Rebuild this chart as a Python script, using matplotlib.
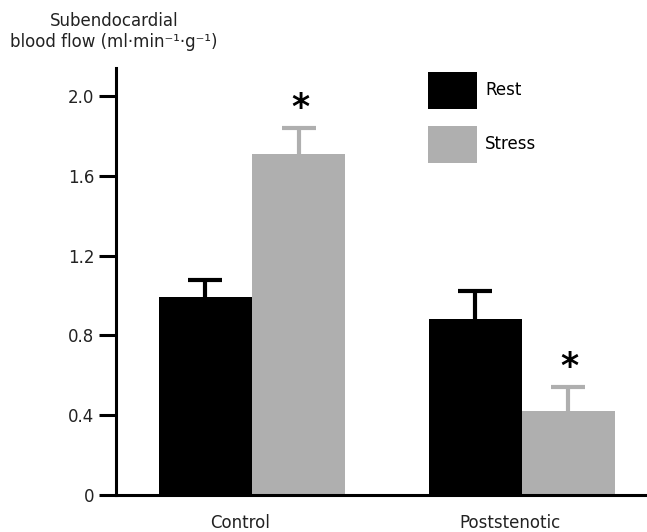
import matplotlib
matplotlib.use('Agg')
import matplotlib.pyplot as plt
import numpy as np

# data
groups = ['Control', 'Poststenotic']
rest_mean = [0.99, 0.88]
rest_err = [0.09, 0.14]
stress_mean = [1.71, 0.42]
stress_err = [0.13, 0.12]
significant = [True, True]   # stress vs rest

plt.rcParams['font.family'] = ['DejaVu Sans']
plt.rcParams['font.size'] = 12

black = '#000000'
grey = '#afafaf'

fig = plt.figure(figsize=(6.47, 5.32), dpi=100)
ax = fig.add_axes([116 / 647, 1 - 495 / 532, (645 - 116) / 647, (495 - 68) / 532])

x = np.arange(len(groups))
w = 0.345

ax.bar(x - w / 2, rest_mean, w, color=black, label='Rest', linewidth=0)
ax.bar(x + w / 2, stress_mean, w, color=grey, label='Stress', linewidth=0)

# one-sided error bars (upper cap only)
for xs, m, e, c in [(x - w / 2, rest_mean, rest_err, black),
                    (x + w / 2, stress_mean, stress_err, grey)]:
    eb = ax.errorbar(xs, m, yerr=[np.zeros(len(x)), e], fmt='none',
                     ecolor=c, elinewidth=3, capsize=12.5, capthick=3)
    eb[1][0].set_visible(False)

for i in range(len(x)):
    if significant[i]:
        ax.text(x[i] + w / 2 + 0.005, stress_mean[i] + stress_err[i] + 0.10, '*',
                ha='center', va='center', fontsize=25, fontweight='bold')

ax.set_xlim(-0.504, 1.456)
ax.set_ylim(0, 2.14)
ax.set_yticks([0, 0.4, 0.8, 1.2, 1.6, 2.0])
ax.set_yticklabels(['0', '0.4', '0.8', '1.2', '1.6', '2.0'])
ax.set_xticks(x - 0.045)
ax.set_xticklabels(groups)

for s in ['top', 'right']:
    ax.spines[s].set_visible(False)
for s in ['left', 'bottom']:
    ax.spines[s].set_linewidth(2.2)

ax.tick_params(axis='y', direction='out', length=12, width=2.2, pad=3.5, labelcolor='#222222')
ax.tick_params(axis='x', length=0, pad=14, labelcolor='#222222')

fig.text(114 / 647, 1 - 21 / 532, 'Subendocardial', ha='center', va='center',
         fontsize=12, color='#222222')
fig.text(114 / 647, 1 - 42 / 532, 'blood flow (ml·min⁻¹·g⁻¹)', ha='center', va='center',
         fontsize=12, color='#222222')

ax.legend(loc='upper left', bbox_to_anchor=(428 / 647, 1 - 72 / 532),
          bbox_transform=fig.transFigure, frameon=False, borderpad=0,
          borderaxespad=0, handlelength=2.94, handleheight=3.04,
          labelspacing=1.02, handletextpad=0.5, fontsize=12)

fig.savefig('out.png', dpi=100)
